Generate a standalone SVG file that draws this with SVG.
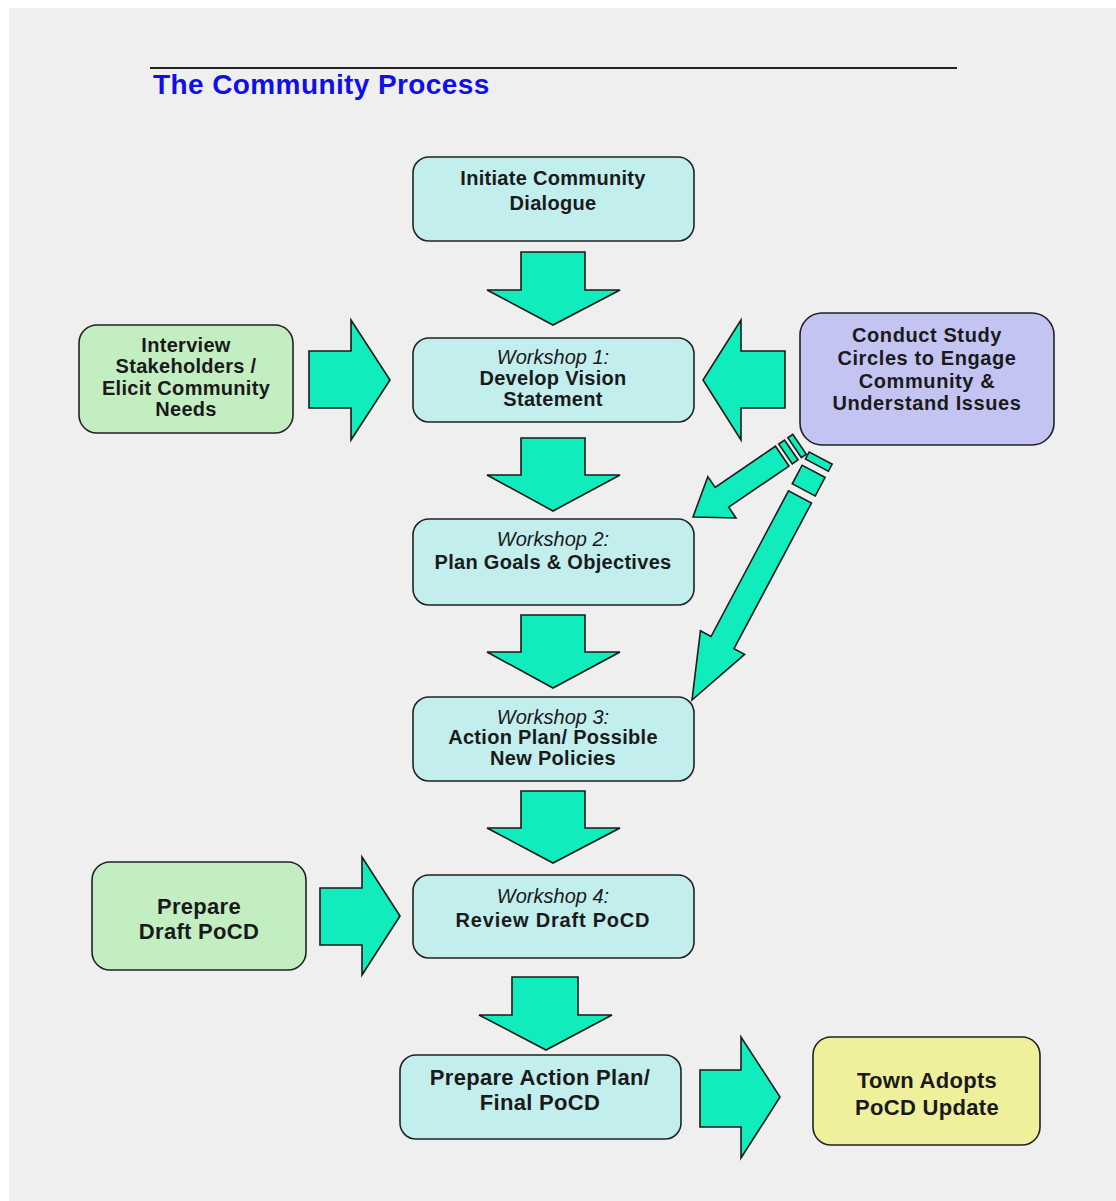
<svg xmlns="http://www.w3.org/2000/svg" width="1116" height="1201" viewBox="0 0 1116 1201">
<defs>
<style>
.bg{fill:#efefef}
.arr{fill:#10ecbb;stroke:#1a1a1a;stroke-width:1.6;stroke-linejoin:miter}
.box{stroke:#222;stroke-width:1.6}
.cyan{fill:#c2eeee}
.green{fill:#c2eec2}
.lav{fill:#c4c4f2}
.yel{fill:#f0f09c}
.t{font-family:"Liberation Sans",Arial,sans-serif;font-weight:bold;font-size:20px;fill:#1a1a1a;text-anchor:middle;letter-spacing:0.3px}
.i{font-family:"Liberation Sans",Arial,sans-serif;font-style:italic;font-size:20px;fill:#1a1a1a;text-anchor:middle}
.big{font-size:22px}
</style>
</defs>
<rect x="0" y="0" width="1116" height="1201" fill="#ffffff"/>
<rect class="bg" x="9" y="8" width="1107" height="1193"/>
<g id="title">
<line x1="150" y1="68" x2="957" y2="68" stroke="#222" stroke-width="2"/>
<text x="153" y="94" font-family="Liberation Sans, Arial, sans-serif" font-weight="bold" font-size="28" letter-spacing="0.4" fill="#1010e6">The Community Process</text>
</g>
<g id="connectors">
<polygon class="arr" points="521,252 585,252 585,290 620,290 553,325 487,290 521,290"/>
<polygon class="arr" points="521,438 585,438 585,475 620,475 553,511 487,475 521,475"/>
<polygon class="arr" points="521,615 585,615 585,652 620,652 553,688 487,652 521,652"/>
<polygon class="arr" points="521,791 585,791 585,828 620,828 553,863 487,828 521,828"/>
<polygon class="arr" points="512,977 578,977 578,1015 612,1015 546,1050 479,1015 512,1015"/>
<polygon class="arr" points="309,351 351,351 351,320 390,380 351,440 351,408 309,408"/>
<polygon class="arr" points="785,351 741,351 741,320 703,380 741,440 741,408 785,408"/>
<polygon class="arr" points="320,888 362,888 362,857 400,916 362,975 362,945 320,945"/>
<polygon class="arr" points="700,1070 741,1070 741,1037 780,1097 741,1158 741,1127 700,1127"/>
<g transform="translate(693,517) rotate(145.7)">
<polygon class="arr" points="0,0 -35,-25 -35,-12 -108,-12 -108,12 -35,12 -35,25"/>
<rect class="arr" x="-119" y="-12" width="7" height="24"/>
<rect class="arr" x="-129" y="-12" width="6" height="24"/>
</g>
<g transform="translate(692,700) rotate(118)">
<polygon class="arr" points="0,0 -65,-25 -65,-13 -230,-13 -230,13 -65,13 -65,25"/>
<rect class="arr" x="-259" y="-13" width="21" height="26"/>
<rect class="arr" x="-274" y="-13" width="8" height="26"/>
</g>
</g>
<g id="n_initiate">
<rect class="box cyan" x="413" y="157" width="281" height="84" rx="16"/>
<text class="t" x="553" y="185" font-size="21">Initiate Community</text>
<text class="t" x="553" y="210" font-size="21">Dialogue</text>
</g>
<g id="n_interview">
<rect class="box green" x="79" y="325" width="214" height="108" rx="18"/>
<text class="t" x="186" y="352">Interview</text>
<text class="t" x="186" y="373">Stakeholders /</text>
<text class="t" x="186" y="395">Elicit Community</text>
<text class="t" x="186" y="416">Needs</text>
</g>
<g id="n_ws1">
<rect class="box cyan" x="413" y="338" width="281" height="84" rx="16"/>
<text class="i" x="553" y="364">Workshop 1:</text>
<text class="t" x="553" y="385">Develop Vision</text>
<text class="t" x="553" y="406">Statement</text>
</g>
<g id="n_conduct">
<rect class="box lav" x="800" y="313" width="254" height="132" rx="22"/>
<text class="t" x="927" y="342" style="letter-spacing:0.6px">Conduct Study</text>
<text class="t" x="927" y="365" style="letter-spacing:0.6px">Circles to Engage</text>
<text class="t" x="927" y="388" style="letter-spacing:0.6px">Community &amp;</text>
<text class="t" x="927" y="410" style="letter-spacing:0.6px">Understand Issues</text>
</g>
<g id="n_ws2">
<rect class="box cyan" x="413" y="519" width="281" height="86" rx="16"/>
<text class="i" x="553" y="546">Workshop 2:</text>
<text class="t" x="553" y="569">Plan Goals &amp; Objectives</text>
</g>
<g id="n_ws3">
<rect class="box cyan" x="413" y="697" width="281" height="84" rx="16"/>
<text class="i" x="553" y="724">Workshop 3:</text>
<text class="t" x="553" y="744">Action Plan/ Possible</text>
<text class="t" x="553" y="765">New Policies</text>
</g>
<g id="n_draft">
<rect class="box green" x="92" y="862" width="214" height="108" rx="18"/>
<text class="t big" x="199" y="914">Prepare</text>
<text class="t big" x="199" y="939">Draft PoCD</text>
</g>
<g id="n_ws4">
<rect class="box cyan" x="413" y="875" width="281" height="83" rx="16"/>
<text class="i" x="553" y="903">Workshop 4:</text>
<text class="t" x="553" y="927" font-size="21" style="letter-spacing:0.8px">Review Draft PoCD</text>
</g>
<g id="n_final">
<rect class="box cyan" x="400" y="1055" width="281" height="84" rx="16"/>
<text class="t big" x="540" y="1085">Prepare Action Plan/</text>
<text class="t big" x="540" y="1110">Final PoCD</text>
</g>
<g id="n_town">
<rect class="box yel" x="813" y="1037" width="227" height="108" rx="18"/>
<text class="t big" x="927" y="1088">Town Adopts</text>
<text class="t big" x="927" y="1115">PoCD Update</text>
</g>
</svg>
